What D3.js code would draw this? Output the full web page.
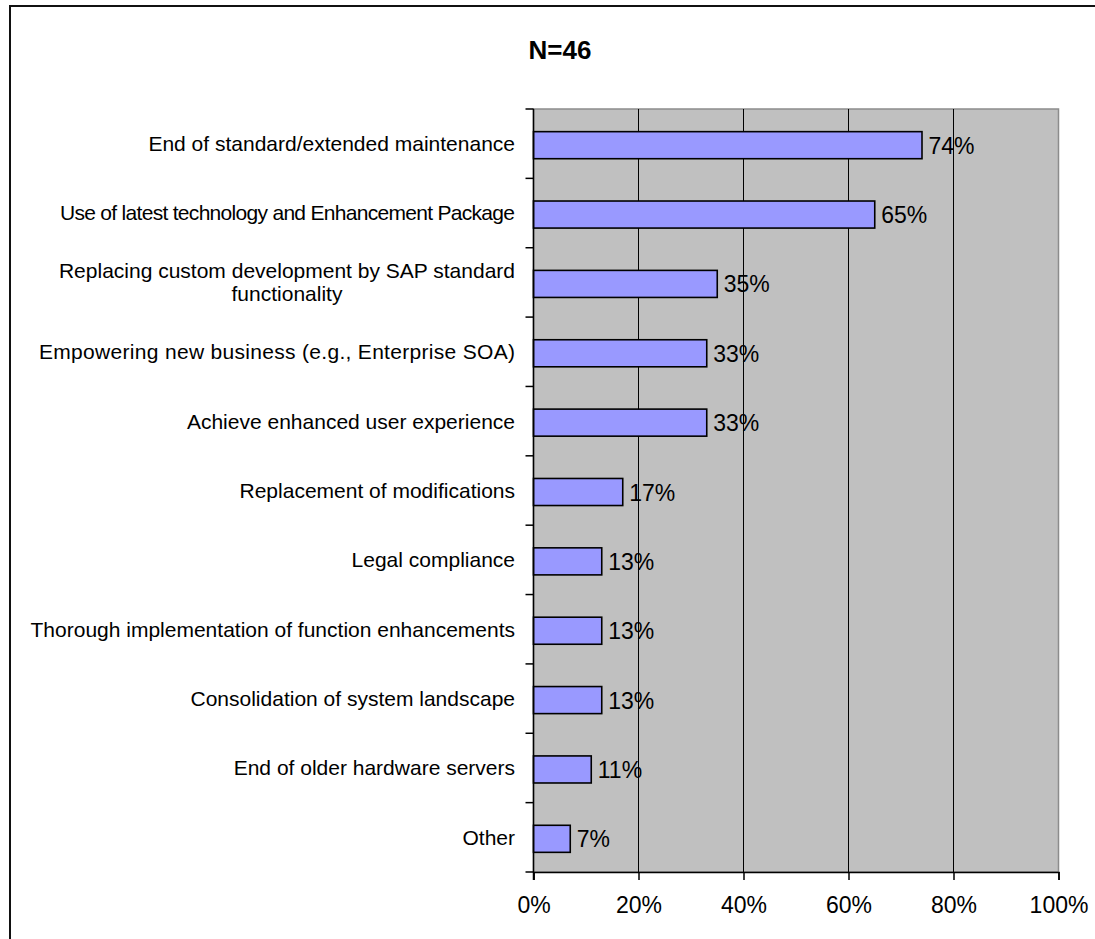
<!DOCTYPE html>
<html>
<head>
<meta charset="utf-8">
<script src="https://cdn.jsdelivr.net/npm/d3@7"></script>
<style>
  html, body { margin: 0; padding: 0; background: #fff; }
  svg { display: block; font-family: "Liberation Sans", Arial, sans-serif; }
</style>
</head>
<body>
<svg id="chart" width="1095" height="939"></svg>
<script>
// Reasons for upgrading (share of respondents, N=46)
const categories = [
  "End of standard/extended maintenance",
  "Use of latest technology and Enhancement Package",
  "Replacing custom development by SAP standard\nfunctionality",
  "Empowering new business (e.g., Enterprise SOA)",
  "Achieve enhanced user experience",
  "Replacement of modifications",
  "Legal compliance",
  "Thorough implementation of function enhancements",
  "Consolidation of system landscape",
  "End of older hardware servers",
  "Other"
];
const values = [74, 65, 35, 33, 33, 17, 13, 13, 13, 11, 7];
const xTicks = [0, 20, 40, 60, 80, 100];
const title = "N=46";

// tighter set labels: first-line widths for the long, condensed entries
const labelWidths = { 1: 455, 3: 476 };

const svg = d3.select("#chart");

// outer frame (runs off the right and bottom edges)
svg.append("rect")
  .attr("x", 10).attr("y", 6)
  .attr("width", 1200).attr("height", 1000)
  .attr("fill", "none").attr("stroke", "#111").attr("stroke-width", 2);

const plot = { left: 533.5, right: 1058.5, top: 109, bottom: 872 };

const x = d3.scaleLinear().domain([0, 100]).range([plot.left, plot.right]);
const y = d3.scaleBand().domain(categories).range([plot.top, plot.bottom])
  .paddingInner(0.61).paddingOuter(0.305);

// plot background
svg.append("rect")
  .attr("x", plot.left).attr("y", plot.top)
  .attr("width", plot.right - plot.left).attr("height", plot.bottom - plot.top)
  .attr("fill", "#c0c0c0").attr("stroke", "#8c8c8c").attr("stroke-width", 1.5);

// vertical gridlines
svg.append("g").selectAll("line")
  .data(xTicks.filter(t => t > 0 && t < 100))
  .join("line")
  .attr("x1", d => x(d)).attr("x2", d => x(d))
  .attr("y1", plot.top).attr("y2", plot.bottom)
  .attr("stroke", "#000").attr("stroke-width", 1);

// bars
svg.append("g").selectAll("rect")
  .data(values)
  .join("rect")
  .attr("x", x(0))
  .attr("y", (d, i) => y(categories[i]) + 1.5)
  .attr("width", d => x(d) - x(0))
  .attr("height", y.bandwidth())
  .attr("fill", "#9999ff")
  .attr("stroke", "#000")
  .attr("stroke-width", 1.6);

// value labels
svg.append("g").selectAll("text")
  .data(values)
  .join("text")
  .attr("x", d => x(d) + 6.5)
  .attr("y", (d, i) => y(categories[i]) + 1.5 + y.bandwidth() / 2)
  .attr("dy", "0.37em")
  .attr("font-size", 23)
  .attr("fill", "#000")
  .text(d => d + "%");

// left axis with category ticks between bands
const yAxis = svg.append("g");
yAxis.append("line")
  .attr("x1", plot.left).attr("x2", plot.left)
  .attr("y1", plot.top).attr("y2", plot.bottom + 8)
  .attr("stroke", "#000").attr("stroke-width", 1.5);
const step = y.step();
yAxis.selectAll("line.tick")
  .data(d3.range(categories.length + 1))
  .join("line")
  .attr("class", "tick")
  .attr("x1", plot.left - 8).attr("x2", plot.left)
  .attr("y1", i => plot.top + i * step).attr("y2", i => plot.top + i * step)
  .attr("stroke", "#000").attr("stroke-width", 1.5);

// category labels (right aligned; wrapped lines centred under the first line)
const labelX = 515;
categories.forEach((c, i) => {
  const lines = c.split("\n");
  const cy = y(c) + y.bandwidth() / 2 + 1.5;
  const lh = 23.3;
  const first = cy - (lines.length - 1) * lh / 2;
  const t0 = svg.append("text")
    .attr("x", labelX).attr("y", first).attr("dy", "0.28em")
    .attr("text-anchor", "end").attr("font-size", 21).attr("fill", "#000")
    .text(lines[0]);
  if (labelWidths[i]) {
    t0.attr("textLength", labelWidths[i]).attr("lengthAdjust", "spacing");
  }
  const w = labelWidths[i] || t0.node().getComputedTextLength();
  for (let k = 1; k < lines.length; k++) {
    svg.append("text")
      .attr("x", labelX - w / 2).attr("y", first + k * lh).attr("dy", "0.28em")
      .attr("text-anchor", "middle").attr("font-size", 21).attr("fill", "#000")
      .text(lines[k]);
  }
});

// bottom axis
const xAxis = d3.axisBottom(x).tickValues(xTicks).tickFormat(d => d + "%")
  .tickSize(8).tickPadding(17);
const gx = svg.append("g").attr("transform", `translate(0,${plot.bottom})`).call(xAxis);
gx.select(".domain").attr("stroke", "#000").attr("stroke-width", 1.5);
gx.selectAll(".tick line").attr("stroke", "#000").attr("stroke-width", 1.5);
gx.selectAll(".tick text").attr("font-size", 23).attr("fill", "#000")
  .attr("font-family", "'Liberation Sans', Arial, sans-serif");

// title
svg.append("text")
  .attr("x", 560).attr("y", 59)
  .attr("text-anchor", "middle")
  .attr("font-size", 26).attr("font-weight", "bold").attr("fill", "#000")
  .text(title);
</script>
</body>
</html>
